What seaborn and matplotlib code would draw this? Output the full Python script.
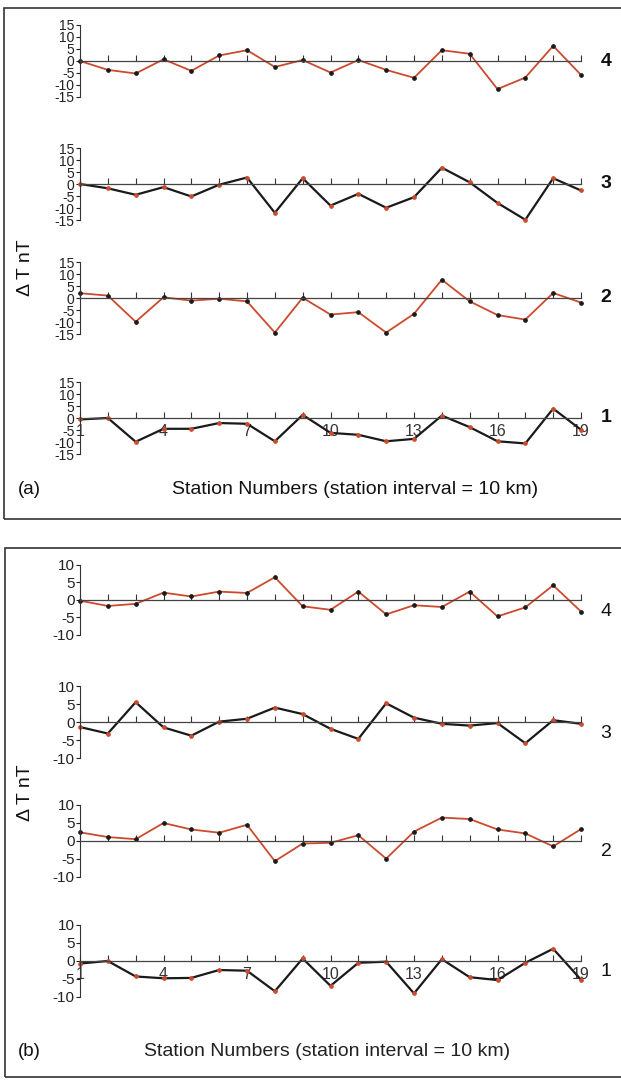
import matplotlib
matplotlib.use("Agg")
import matplotlib.pyplot as plt
from matplotlib.patches import Rectangle
import seaborn as sns
import pandas as pd

sns.set_theme(style="white")
plt.rcParams['font.family'] = ['Liberation Sans', 'DejaVu Sans']

stations = list(range(1, 20))
xtick_labels = [1, 4, 7, 10, 13, 16, 19]

a_profile4 = [0, -3.7, -5.2, 0.7, -4.1, 2.3, 4.5, -2.5, 0.4, -4.8, 0.4, -3.7, -7.0, 4.5, 3.0, -11.7, -6.9, 6.3, -5.8]
a_profile3 = [0, -1.8, -4.5, -1.3, -5.2, -0.3, 2.7, -12.0, 2.4, -9.0, -4.1, -9.9, -5.5, 6.8, 0.7, -7.9, -14.9, 2.4, -2.7]
a_profile2 = [2.0, 1.0, -9.9, 0.3, -1.1, -0.3, -1.4, -14.4, 0.1, -6.9, -5.9, -14.4, -6.6, 7.6, -1.4, -7.1, -9.0, 2.1, -1.9]
a_profile1 = [-0.6, 0.0, -9.9, -4.5, -4.5, -2.1, -2.4, -9.7, 1.3, -6.2, -7.0, -9.7, -8.7, 1.0, -3.8, -9.7, -10.6, 3.9, -4.9]

b_profile4 = [-0.2, -1.7, -1.1, 2.1, 1.0, 2.4, 2.0, 6.5, -1.8, -2.8, 2.4, -4.1, -1.5, -2.0, 2.4, -4.7, -2.1, 4.2, -3.3]
b_profile3 = [-1.4, -3.2, 5.5, -1.5, -3.8, 0.1, 0.9, 4.0, 2.2, -1.9, -4.7, 5.2, 1.2, -0.5, -1.0, -0.3, -5.9, 0.5, -0.5]
b_profile2 = [2.4, 1.1, 0.5, 5.0, 3.2, 2.3, 4.5, -5.6, -0.7, -0.5, 1.6, -4.9, 2.6, 6.5, 6.1, 3.2, 2.1, -1.5, 3.3]
b_profile1 = [-0.7, 0.0, -4.3, -4.8, -4.7, -2.5, -2.7, -8.4, 0.7, -6.9, -0.5, -0.2, -9.0, 0.5, -4.5, -5.3, -0.5, 3.4, -5.2]

a_yticks = [-15, -10, -5, 0, 5, 10, 15]
b_yticks = [-10, -5, 0, 5, 10]
profile_names = ['4', '3', '2', '1']
xlabel_text = 'Station Numbers (station interval = 10 km)'
ylabel_text = '\u0394 T nT'

RED = '#cc4a2e'
BLACK = '#1a1a1a'

W, H = 621, 1080
fig = plt.figure(figsize=(W / 100, H / 100), dpi=100)
fig.patch.set_facecolor('white')


def axes_px(top, bottom, left=80, right=581):
    return [left / W, 1 - bottom / H, (right - left) / W, (bottom - top) / H]


def draw_profile(top, bottom, values, yticks, lim, color, mcolor, name,
                 label_dy, show_x, ytick_fs, name_fs, name_weight):
    ax = fig.add_axes(axes_px(top, bottom))
    ax.set_facecolor('none')
    df = pd.DataFrame({'station': stations, 'dT': values})
    sns.lineplot(data=df, x='station', y='dT', ax=ax, color=color,
                 linewidth=1.6 if color == BLACK else 1.3,
                 marker='o', markersize=2.6, markerfacecolor=mcolor,
                 markeredgecolor=mcolor, clip_on=False)
    ax.set_xlim(1, 19)
    ax.set_ylim(-lim, lim)
    for s in ['top', 'right']:
        ax.spines[s].set_visible(False)
    ax.spines['left'].set_color('#333333')
    ax.spines['left'].set_linewidth(0.8)
    ax.spines['bottom'].set_position(('data', 0))
    ax.spines['bottom'].set_color('#444444')
    ax.spines['bottom'].set_linewidth(0.9)
    ax.set_xticks(stations)
    ax.set_yticks(yticks)
    ax.set_yticklabels([str(t) for t in yticks], fontsize=ytick_fs)
    ax.tick_params(axis='y', direction='out', length=3, width=0.8, pad=1,
                   colors='#222222', left=True)
    ax.tick_params(axis='x', direction='in', length=4, width=0.8, pad=4,
                   colors='#333333', bottom=True, labelsize=11.5)
    if show_x:
        ax.set_xticklabels([str(s) if s in xtick_labels else '' for s in stations])
    else:
        ax.set_xticklabels([])
    ax.set_xlabel('')
    ax.set_ylabel('')
    ax.grid(False)
    fig.text(606 / W, 1 - (top + (bottom - top) / 2 + label_dy) / H, name,
             fontsize=name_fs, fontweight=name_weight, ha='center', va='center',
             color='#111111')
    return ax


# Panel (a)
a_rows = [(25, 97), (148, 220), (262, 334), (382, 454)]
a_vals = [a_profile4, a_profile3, a_profile2, a_profile1]
a_colors = [(RED, BLACK), (BLACK, RED), (RED, BLACK), (BLACK, RED)]
for i, ((t, b), v, (c, m), n) in enumerate(zip(a_rows, a_vals, a_colors, profile_names)):
    draw_profile(t, b, v, a_yticks, 15, c, m, n, 0, i == 3, 10, 14, 'bold')

# Panel (b)
b_rows = [(565, 635), (686, 758), (805, 877), (925, 997)]
b_vals = [b_profile4, b_profile3, b_profile2, b_profile1]
for i, ((t, b), v, (c, m), n) in enumerate(zip(b_rows, b_vals, a_colors, profile_names)):
    draw_profile(t, b, v, b_yticks, 10, c, m, n, 11, i == 3, 11, 14, 'normal')

# Panel frames
fig.add_artist(Rectangle((4 / W, 1 - 519 / H), 630 / W, 511 / H,
                         transform=fig.transFigure, fill=False,
                         edgecolor='#333333', linewidth=1.2))
fig.add_artist(Rectangle((5 / W, 1 - 1077 / H), 630 / W, 529 / H,
                         transform=fig.transFigure, fill=False,
                         edgecolor='#333333', linewidth=1.2))

# Labels
fig.text(18 / W, 1 - 490 / H, '(a)', fontsize=13.5, ha='left', va='center', color='#111111')
fig.text(355 / W, 1 - 490 / H, xlabel_text, fontsize=14, ha='center', va='center', color='#111111')
fig.text(18 / W, 1 - 1051 / H, '(b)', fontsize=13.5, ha='left', va='center', color='#111111')
fig.text(327 / W, 1 - 1051 / H, xlabel_text, fontsize=14, ha='center', va='center', color='#222222')
fig.text(25 / W, 1 - 268 / H, ylabel_text, fontsize=14, rotation=90, ha='center', va='center', color='#111111')
fig.text(25 / W, 1 - 793 / H, ylabel_text, fontsize=14, rotation=90, ha='center', va='center', color='#111111')

fig.savefig('out.png', dpi=100, facecolor='white')
